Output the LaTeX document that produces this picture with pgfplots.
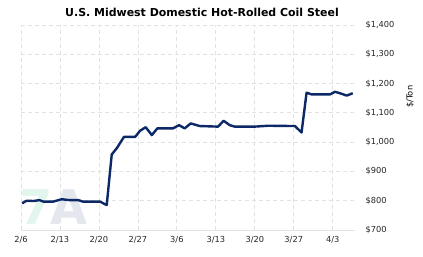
\documentclass[border=0pt]{standalone}
\usepackage{pgfplots}
\pgfplotsset{compat=1.18}
\usepackage{fontspec}
\setmainfont{DejaVu Sans}
\definecolor{navy}{RGB}{12,40,102}
\definecolor{gridc}{RGB}{226,226,226}
\definecolor{wmA}{RGB}{228,231,238}
\definecolor{wm7}{RGB}{226,246,238}
\begin{document}
\begin{tikzpicture}
\path[use as bounding box] (-21bp,-27bp) rectangle (402bp,230bp);
\begin{axis}[
  scale only axis,
  width=334bp, height=205bp,
  xmin=0, xmax=60, ymin=700, ymax=1400,
  axis x line*=bottom, axis y line*=right,
  x axis line style={draw=gridc, line width=1pt},
  y axis line style={draw=none},
  xtick={0,7,14,21,28,35,42,49,56},
  xticklabels={2/6,2/13,2/20,2/27,3/6,3/13,3/20,3/27,4/3},
  ytick={700,800,900,1000,1100,1200,1300,1400},
  yticklabels={{\$700},{\$800},{\$900},{\$1,000},{\$1,100},{\$1,200},{\$1,300},{\$1,400}},
  major tick length=0pt,
  tick label style={font=\fontsize{8.3}{10}\selectfont, text=black!85},
  yticklabel style={anchor=west, xshift=7bp},
  xticklabel style={yshift=-3bp},
  grid=major,
  major grid style={draw=gridc, dash pattern=on 4bp off 3bp, line width=0.8pt},
  ylabel={\$/Ton},
  ylabel style={at={(axis description cs:1.165,0.65)}, anchor=center, font=\fontsize{8.3}{10}\selectfont, rotate=0},
  clip=false,
]
\node[font=\bfseries\fontsize{48}{48}\selectfont, text=wm7, anchor=south] at (axis cs:2.8,708) {7};
\node[font=\bfseries\fontsize{48}{48}\selectfont, text=wmA, anchor=south] at (axis cs:8.6,706) {A};
\addplot[navy, line width=2.4bp, line join=round] coordinates {
(0.2,791) (1.0,800) (2.2,799) (3.3,802) (4.0,797) (5.8,797) (7.3,805) (8.8,802)
(10.3,802) (11.1,797) (14.2,797) (15.4,785) (16.3,958) (17.2,979) (18.5,1018)
(20.5,1018) (21.4,1039) (22.4,1051) (23.5,1024) (24.5,1047) (27.3,1047) (28.4,1058)
(29.4,1047) (30.5,1064) (32.1,1055) (35.4,1053) (36.4,1073) (37.5,1058) (38.4,1053)
(42.0,1053) (44.4,1056) (49.2,1055) (50.4,1033) (51.3,1169) (52.2,1163) (55.5,1163)
(56.4,1172) (57.3,1167) (58.5,1159) (59.6,1167)
};
\end{axis}
\node[font=\bfseries\fontsize{11}{13}\selectfont] at (181bp,218bp) {U.S. Midwest Domestic Hot-Rolled Coil Steel};
\end{tikzpicture}
\end{document}
